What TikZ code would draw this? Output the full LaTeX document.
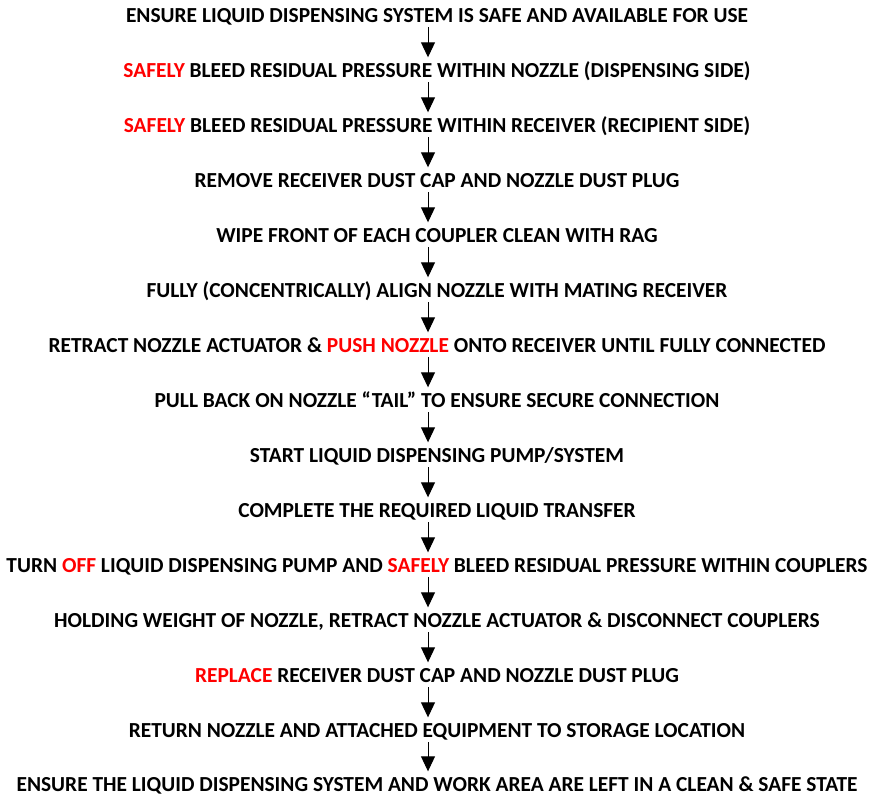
\documentclass[tikz,border=0pt]{standalone}
\usepackage{fontspec}
\setmainfont{Carlito}
\usetikzlibrary{arrows.meta}
\definecolor{warn}{RGB}{255,0,0}
\tikzset{
  stepline/.style={inner sep=0pt, text height=16pt, text depth=2pt, font=\fontsize{21.4pt}{25pt}\selectfont\bfseries},
  flowarrow/.style={line width=1pt, -{Triangle[width=14pt,length=15pt]}, shorten <=2.5pt, shorten >=4pt}
}
\newcommand{\rd}[1]{\textcolor{warn}{#1}}
\begin{document}
\begin{tikzpicture}[x=1pt,y=1pt]
\useasboundingbox (0,0) rectangle (872,-795);
\def\cx{437}
\node[stepline] (s1)  at (\cx,-15.5)  {ENSURE LIQUID DISPENSING SYSTEM IS SAFE AND AVAILABLE FOR USE};
\node[stepline] (s2)  at (\cx,-70.5)  {\rd{SAFELY} BLEED RESIDUAL PRESSURE WITHIN NOZZLE (DISPENSING SIDE)};
\node[stepline] (s3)  at (\cx,-125.5) {\rd{SAFELY} BLEED RESIDUAL PRESSURE WITHIN RECEIVER (RECIPIENT SIDE)};
\node[stepline] (s4)  at (\cx,-180.5) {REMOVE RECEIVER DUST CAP AND NOZZLE DUST PLUG};
\node[stepline] (s5)  at (\cx,-235.5) {WIPE FRONT OF EACH COUPLER CLEAN WITH RAG};
\node[stepline] (s6)  at (\cx,-290.5) {FULLY (CONCENTRICALLY) ALIGN NOZZLE WITH MATING RECEIVER};
\node[stepline] (s7)  at (\cx,-345.5) {RETRACT NOZZLE ACTUATOR \& \rd{PUSH NOZZLE} ONTO RECEIVER UNTIL FULLY CONNECTED};
\node[stepline] (s8)  at (\cx,-400.5) {PULL BACK ON NOZZLE “TAIL” TO ENSURE SECURE CONNECTION};
\node[stepline] (s9)  at (\cx,-455.5) {START LIQUID DISPENSING PUMP/SYSTEM};
\node[stepline] (s10) at (\cx,-510.5) {COMPLETE THE REQUIRED LIQUID TRANSFER};
\node[stepline] (s11) at (\cx,-565.5) {TURN \rd{OFF} LIQUID DISPENSING PUMP AND \rd{SAFELY} BLEED RESIDUAL PRESSURE WITHIN COUPLERS};
\node[stepline] (s12) at (\cx,-620.5) {HOLDING WEIGHT OF NOZZLE, RETRACT NOZZLE ACTUATOR \& DISCONNECT COUPLERS};
\node[stepline] (s13) at (\cx,-675.5) {\rd{REPLACE} RECEIVER DUST CAP AND NOZZLE DUST PLUG};
\node[stepline] (s14) at (\cx,-730.5) {RETURN NOZZLE AND ATTACHED EQUIPMENT TO STORAGE LOCATION};
\node[stepline] (s15) at (\cx,-784.5) {ENSURE THE LIQUID DISPENSING SYSTEM AND WORK AREA ARE LEFT IN A CLEAN \& SAFE STATE};
\foreach \a/\b in {s1/s2,s2/s3,s3/s4,s4/s5,s5/s6,s6/s7,s7/s8,s8/s9,s9/s10,s10/s11,s11/s12,s12/s13,s13/s14,s14/s15}
  \draw[flowarrow] ([xshift=-9pt]\a.south) -- ([xshift=-9pt]\b.north);
\end{tikzpicture}
\end{document}
